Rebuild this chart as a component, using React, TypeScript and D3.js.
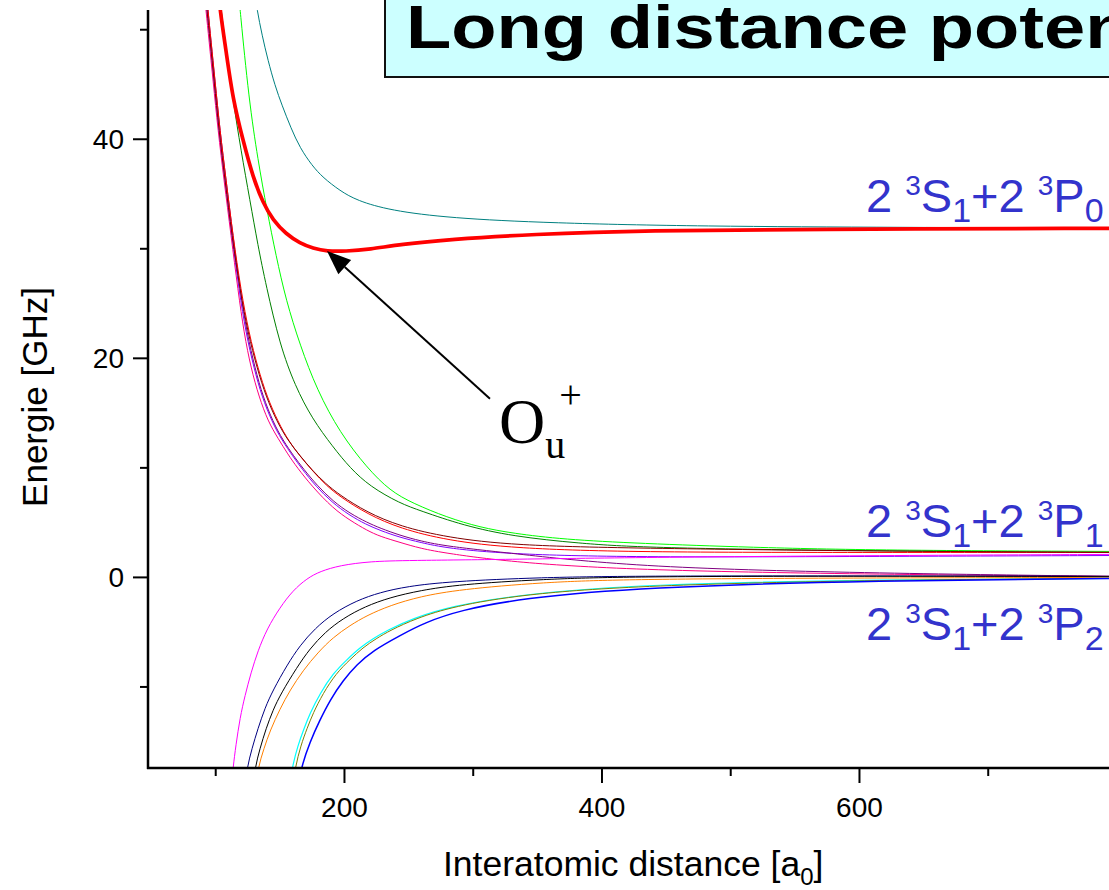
import React from "react";
import * as d3 from "d3";

// ---- data: [interatomic distance (a0), energy (GHz)] ----
const tealCurve: [number, number][] = [[129.5, 54], [132.1, 51.8], [136.0, 49.5], [140.6, 47.2], [146.0, 44.9], [151.5, 43.1], [158.5, 41.0], [165.5, 39.2], [174.8, 37.6], [183.3, 36.5], [196.5, 35.3], [209.7, 34.4], [235.4, 33.5], [282, 32.8], [359.6, 32.35], [476.1, 32.05], [631.5, 31.96], [800, 31.87]];
const ouPlusCurve: [number, number][] = [[101.8, 54], [103.3, 51.8], [108.0, 48.1], [113.4, 43.6], [121.2, 39.9], [129.0, 36.5], [136.7, 34.2], [144.5, 32.6], [154.6, 31.35], [165.5, 30.5], [175.6, 30.05], [186.4, 29.77], [200.4, 29.77], [219.8, 29.95], [243.1, 30.4], [282, 30.87], [344.1, 31.32], [437.3, 31.69], [553.8, 31.78], [800, 31.87]];
const limeCurve: [number, number][] = [[117.3, 54], [118.9, 51.8], [125.8, 43.6], [132.8, 38.1], [139.8, 33.5], [146.8, 29.4], [154.6, 25.3], [165.5, 21.2], [178.7, 17.1], [196.5, 13.2], [217.5, 10.0], [235.4, 7.9], [253.2, 6.76], [279.6, 5.48], [305.3, 4.57], [330.9, 4.02], [369.7, 3.47], [429.5, 3.1], [515, 2.74], [616, 2.47], [800, 2.37]];
const darkGreenCurve: [number, number][] = [[102.5, 54], [104.1, 51.8], [108.8, 47.7], [113.4, 43.6], [119.6, 39.0], [126.6, 34.4], [132.8, 30.3], [139.0, 26.7], [149.9, 21.2], [161.6, 17.5], [174.8, 14.5], [191.1, 11.9], [204.3, 10.0], [219.8, 8.3], [243.1, 6.76], [258.7, 6.1], [292.1, 4.75], [330.9, 3.74], [383, 3.1], [429.5, 2.74], [553.8, 2.47], [800, 2.28]];
const darkRedCurve: [number, number][] = [[91.4, 54], [93.2, 51.8], [95.6, 49.0], [98.7, 45.4], [102.5, 40.8], [107.2, 36.3], [112.6, 31.2], [118.9, 26.2], [125.1, 22.3], [132.1, 19.1], [139.1, 16.5], [147.6, 14.2], [156.1, 12.5], [165.5, 11.1], [174.8, 9.8], [184.9, 8.6], [196.5, 7.5], [217.5, 5.94], [243.1, 4.66], [279.6, 3.65], [330.9, 2.92], [429.5, 2.65], [631.5, 2.37], [800, 2.28]];
const redCurve: [number, number][] = [[92.2, 54], [94.0, 51.8], [96.3, 49.0], [99.4, 45.4], [103.3, 40.8], [108.0, 36.3], [113.4, 31.2], [119.6, 26.2], [125.8, 22.3], [132.8, 19.1], [139.8, 16.5], [148.4, 14.2], [156.9, 12.4], [166.2, 10.96], [175.6, 9.68], [185.7, 8.4], [197.3, 7.3], [218.3, 5.75], [243.1, 4.47], [279.6, 3.38], [330.9, 2.65], [429.5, 2.28], [631.5, 2.28], [800, 2.28]];
const purpleCurve: [number, number][] = [[92.2, 54], [94.0, 51.8], [96.3, 49.0], [99.4, 45.4], [103.3, 40.8], [108.0, 36.3], [113.4, 31.2], [118.9, 26.2], [124.3, 22.3], [130.5, 19.1], [136.7, 16.5], [144.5, 14.2], [152.3, 12.5], [160.8, 11.05], [167.8, 9.95], [178.7, 8.4], [191.1, 6.95], [204.3, 5.84], [217.5, 5.02], [227.6, 4.5], [243.1, 3.84], [258.7, 3.33], [279.6, 2.83], [330.9, 2.19], [429.5, 0.91], [616, 0.37], [800, 0.09]];
const violetCurve: [number, number][] = [[91.4, 54], [93.2, 51.8], [95.6, 49.0], [98.7, 45.4], [102.5, 40.8], [107.2, 36.3], [112.6, 31.2], [118.1, 26.2], [123.5, 22.3], [129.7, 19.1], [135.9, 16.5], [143.7, 14.2], [151.5, 12.5], [160.0, 11.05], [167.0, 9.9], [177.9, 8.3], [190.3, 6.85], [203.5, 5.7], [216.7, 4.84], [227.6, 4.29], [243.1, 3.65], [258.7, 3.2], [279.6, 2.65], [330.9, 2.1], [429.5, 1.83], [616, 1.92], [800, 2.0]];
const pinkCurve: [number, number][] = [[90.6, 54], [92.4, 51.8], [94.8, 49.0], [97.9, 45.4], [101.8, 40.8], [106.4, 36.3], [111.9, 31.2], [117.3, 26.2], [122.0, 22.3], [127.4, 19.1], [133.6, 16.5], [140.6, 14.25], [148.4, 12.69], [156.1, 11.23], [163.1, 10.05], [174.8, 8.31], [191.1, 6.3], [204.3, 5.21], [217.5, 4.29], [227.6, 3.74], [243.1, 3.2], [258.7, 2.65], [279.6, 2.19], [330.9, 1.37], [429.5, 0.64], [616, 0.27], [800, 0.09]];
const magentaCurve: [number, number][] = [[112.5, -19], [113.4, -17.4], [115.7, -15.3], [118.9, -12.8], [122.7, -10.8], [127.4, -8.7], [132.8, -6.7], [139.8, -4.7], [149.9, -2.74], [160.0, -1.19], [170.9, -0.09], [181.0, 0.55], [196.5, 1.1], [219.8, 1.46], [248.6, 1.55], [326.2, 1.64], [429.5, 1.83], [616, 2.0], [800, 2.1]];
const navyCurve: [number, number][] = [[123.0, -19], [124.3, -17.4], [128.2, -15.6], [132.8, -13.8], [138.3, -11.9], [144.5, -10.3], [155.4, -8.0], [165.5, -6.2], [177.1, -4.66], [191.1, -3.29], [209.7, -2.1], [227.6, -1.37], [248.6, -0.82], [282, -0.37], [351.9, 0], [429.5, 0.14], [631.5, 0.14], [800, 0.09]];
const blackCurve: [number, number][] = [[129.2, -19], [130.5, -17.4], [134.4, -15.6], [139.1, -13.8], [144.5, -12.1], [150.7, -10.6], [163.1, -8.2], [173.2, -6.5], [184.9, -5.0], [198.9, -3.74], [216, -2.65], [235.4, -1.83], [258.7, -1.19], [289.7, -0.64], [351.9, -0.18], [429.5, 0.14], [800, 0.09]];
const orangeCurve: [number, number][] = [[131.5, -19], [132.8, -17.4], [137.5, -15.6], [142.2, -14.0], [149.9, -12.0], [157.7, -10.3], [167.8, -8.5], [179.4, -6.85], [191.1, -5.48], [204.3, -4.38], [217.5, -3.47], [235.4, -2.56], [258.7, -1.74], [289.7, -1.1], [351.9, -0.46], [429.5, -0.09], [800, 0]];
const cyanCurve: [number, number][] = [[157.9, -19], [159.2, -17.4], [163.9, -15.3], [168.6, -13.8], [173.2, -12.4], [181.0, -10.6], [191.1, -8.77], [202.0, -7.5], [212.1, -6.4], [222.2, -5.6], [233.0, -4.84], [253.2, -3.74], [282, -2.65], [336.3, -1.55], [429.5, -0.64], [616, -0.18], [800, -0.09]];
const oliveCurve: [number, number][] = [[160.3, -19], [161.6, -17.4], [166.2, -15.3], [170.9, -13.8], [175.6, -12.4], [183.3, -10.6], [193.4, -8.77], [204.3, -7.5], [214.4, -6.4], [224.5, -5.6], [235.4, -4.84], [255.6, -3.74], [284.3, -2.65], [337.9, -1.55], [429.5, -0.73], [616, -0.23], [800, -0.09]];
const blueCurve: [number, number][] = [[164.8, -19], [166.2, -17.4], [173.2, -15.0], [181.0, -13.0], [188.8, -11.2], [198.9, -9.4], [209.7, -7.95], [222.2, -6.67], [243.1, -5.3], [262.5, -4.11], [289.7, -3.01], [336.3, -1.92], [429.5, -0.91], [616, -0.27], [800, -0.09]];

const xMajorTicks = [200, 400, 600];
const xMinorTicks = [100, 300, 500, 700];
const yMajorTicks = [0, 20, 40];
const yMinorTicks = [-10, 10, 30, 50];

const asymptoteLabels = [
  { level: "0", baseline: 212 },
  { level: "1", baseline: 537 },
  { level: "2", baseline: 640 },
];

// arrow annotation (data coordinates): tail -> tip at the O_u+ minimum
const arrowTail: [number, number] = [313, 16.3];
const arrowTip: [number, number] = [186.4, 29.8];

const series = [
  { id: "teal", color: "#008080", w: 1, data: tealCurve },
  { id: "lime", color: "#00ff00", w: 1, data: limeCurve },
  { id: "dgreen", color: "#008000", w: 1, data: darkGreenCurve },
  { id: "pink", color: "#ff0080", w: 1, data: pinkCurve },
  { id: "violet", color: "#8000ff", w: 1, data: violetCurve },
  { id: "purple", color: "#800080", w: 1, data: purpleCurve },
  { id: "red", color: "#ff0000", w: 1, data: redCurve },
  { id: "dred", color: "#800000", w: 1, data: darkRedCurve },
  { id: "magenta", color: "#ff00ff", w: 1, data: magentaCurve },
  { id: "navy", color: "#000080", w: 1, data: navyCurve },
  { id: "black", color: "#000000", w: 1, data: blackCurve },
  { id: "orange", color: "#ff8000", w: 1, data: orangeCurve },
  { id: "cyan", color: "#00ffff", w: 1.2, data: cyanCurve },
  { id: "olive", color: "#808000", w: 1, data: oliveCurve },
  { id: "blue", color: "#0000ff", w: 1.5, data: blueCurve },
  { id: "ou", color: "#ff0000", w: 3.7, data: ouPlusCurve },
];

const W = 1109;
const H = 890;
const left = 148;
const top = 10;
const bottom = 768;
const pxPerUnit = 1.2875;
const xMin = 47.4;
const xMax = 800;

export default function App() {
  const x = d3.scaleLinear().domain([xMin, xMax]).range([left, left + (xMax - xMin) * pxPerUnit]);
  const y = d3.scaleLinear().domain([-17.4, 51.8]).range([bottom, top]);
  const line = d3
    .line<[number, number]>()
    .x((d) => x(d[0]))
    .y((d) => y(d[1]))
    .curve(d3.curveBasis);

  const sans = "'Liberation Sans', Arial, Helvetica, sans-serif";
  const serif = "'Liberation Serif', 'Times New Roman', serif";
  const labelColor = "#3333cc";

  const tx = x(arrowTail[0]);
  const ty = y(arrowTail[1]);
  const hx = x(arrowTip[0]);
  const hy = y(arrowTip[1]);
  const ang = Math.atan2(hy - ty, hx - tx);
  const aLen = 24;
  const aHalf = 9.5;
  const bx = hx - aLen * Math.cos(ang);
  const by = hy - aLen * Math.sin(ang);
  const p1 = [bx + aHalf * Math.sin(ang), by - aHalf * Math.cos(ang)];
  const p2 = [bx - aHalf * Math.sin(ang), by + aHalf * Math.cos(ang)];

  return (
    <svg width={W} height={H} style={{ position: "absolute", left: 0, top: 0, background: "#fff" }}>
      <defs>
        <clipPath id="plot">
          <rect x={left} y={top} width={W - left} height={bottom - top} />
        </clipPath>
      </defs>
      <rect x={0} y={0} width={W} height={H} fill="#fff" />

      <g clipPath="url(#plot)">
        {series.map((s) => (
          <path key={s.id} d={line(s.data) || ""} fill="none" stroke={s.color} strokeWidth={s.w} strokeLinejoin="round" />
        ))}
      </g>

      {/* axes */}
      <line x1={left} x2={left} y1={top} y2={bottom + 1} stroke="#000" strokeWidth={2.5} />
      <line x1={left - 1} x2={W} y1={bottom} y2={bottom} stroke="#000" strokeWidth={2.5} />
      {yMajorTicks.map((t) => (
        <g key={"ym" + t}>
          <line x1={left - 15} x2={left} y1={y(t)} y2={y(t)} stroke="#000" strokeWidth={2} />
          <text x={left - 24} y={y(t)} dy="0.36em" textAnchor="end" fontFamily={sans} fontSize={28} fill="#000">
            {t}
          </text>
        </g>
      ))}
      {yMinorTicks.map((t) => (
        <line key={"yn" + t} x1={left - 8} x2={left} y1={y(t)} y2={y(t)} stroke="#000" strokeWidth={2} />
      ))}
      {xMajorTicks.map((t) => (
        <g key={"xm" + t}>
          <line x1={x(t)} x2={x(t)} y1={bottom} y2={bottom + 15} stroke="#000" strokeWidth={2} />
          <text x={x(t)} y={817} textAnchor="middle" fontFamily={sans} fontSize={28} fill="#000">
            {t}
          </text>
        </g>
      ))}
      {xMinorTicks.map((t) => (
        <line key={"xn" + t} x1={x(t)} x2={x(t)} y1={bottom} y2={bottom + 8} stroke="#000" strokeWidth={2} />
      ))}

      {/* axis titles */}
      <text x={443} y={876} fontFamily={sans} fontSize={35.5} fill="#000">
        Interatomic distance [a
        <tspan fontSize={24} dy={9}>0</tspan>
        <tspan dy={-9}>]</tspan>
      </text>
      <text transform="translate(47,397) rotate(-90)" textAnchor="middle" fontFamily={sans} fontSize={35} fill="#000">
        Energie [GHz]
      </text>

      {/* title box */}
      <rect x={385} y={-4} width={760} height={81} fill="#ccffff" stroke="#111" strokeWidth={2} />
      <g transform="translate(406,48) scale(1.215,1)">
        <text x={0} y={0} fontFamily={sans} fontWeight="bold" fontSize={61} fill="#000">
          Long distance potentials
        </text>
      </g>

      {/* asymptote labels */}
      {asymptoteLabels.map((l) => (
        <text key={l.level} x={866} y={l.baseline} fontFamily={sans} fontSize={47} fill={labelColor}>
          2 <tspan fontSize={28} dy={-17}>3</tspan>
          <tspan dy={17}>S</tspan>
          <tspan fontSize={34} dy={10}>1</tspan>
          <tspan dy={-10}>+2 </tspan>
          <tspan fontSize={28} dy={-17}>3</tspan>
          <tspan dy={17}>P</tspan>
          <tspan fontSize={34} dy={10}>{l.level}</tspan>
        </text>
      ))}

      {/* O_u+ annotation */}
      <line x1={tx} y1={ty} x2={bx} y2={by} stroke="#000" strokeWidth={2} />
      <polygon points={`${hx},${hy} ${p1[0]},${p1[1]} ${p2[0]},${p2[1]}`} fill="#000" />
      <text x={499} y={443} fontFamily={serif} fontSize={64} fill="#000">
        O<tspan fontSize={40} dy={15}>u</tspan>
        <tspan fontSize={40} dx={-6} dy={-50}>+</tspan>
      </text>
    </svg>
  );
}
